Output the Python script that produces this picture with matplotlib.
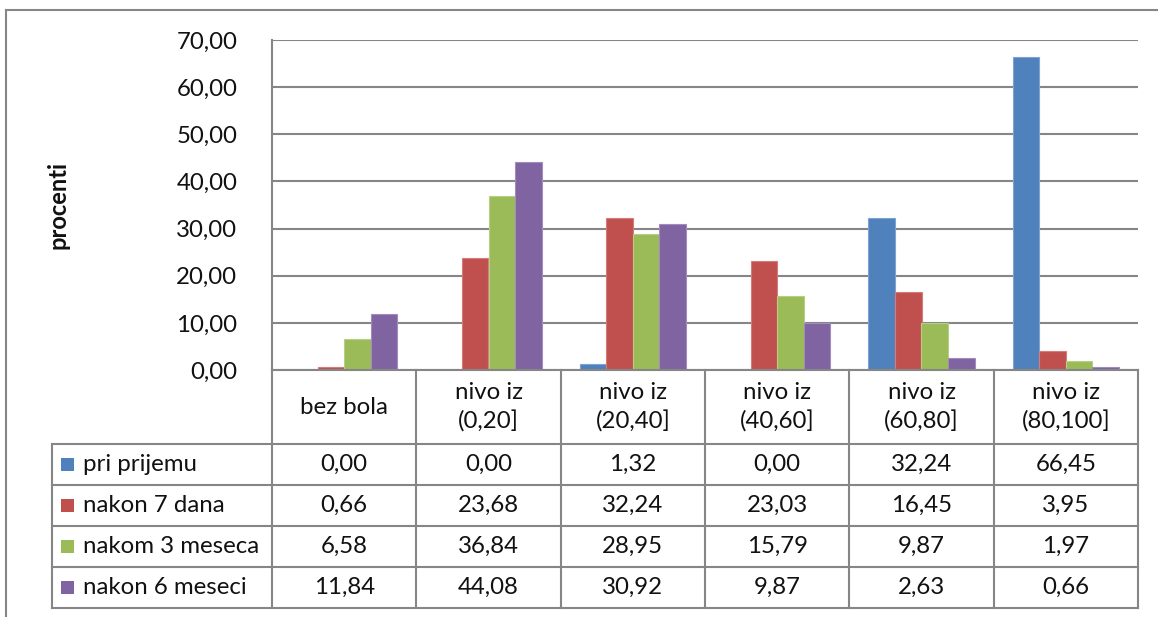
import matplotlib
matplotlib.use("Agg")
import matplotlib.pyplot as plt
from matplotlib.patches import Rectangle

plt.rcParams['font.family'] = ['Lato', 'DejaVu Sans']

# ---- data -------------------------------------------------------------
categories = ["bez bola", "nivo iz\n(0,20]", "nivo iz\n(20,40]",
              "nivo iz\n(40,60]", "nivo iz\n(60,80]", "nivo iz\n(80,100]"]
series_names = ["pri prijemu", "nakon 7 dana", "nakom 3 meseca", "nakon 6 meseci"]
pri_prijemu = [0.00, 0.00, 1.32, 0.00, 32.24, 66.45]
nakon_7_dana = [0.66, 23.68, 32.24, 23.03, 16.45, 3.95]
nakom_3_meseca = [6.58, 36.84, 28.95, 15.79, 9.87, 1.97]
nakon_6_meseci = [11.84, 44.08, 30.92, 9.87, 2.63, 0.66]
series_values = [pri_prijemu, nakon_7_dana, nakom_3_meseca, nakon_6_meseci]
y_ticks = [0, 10, 20, 30, 40, 50, 60, 70]
y_label = "procenti"

colors = ["#4F81BD", "#C0504D", "#9BBB59", "#8064A2"]
edge_colors = ["#7FA3D1", "#D47C7A", "#B7CF85", "#A28BBD"]
grid_color = "#868686"
text_color = "#111111"


def fmt(v):
    return f"{v:.2f}".replace(".", ",")


# ---- layout (pixels) --------------------------------------------------
W, H = 1158, 617
plot_left, plot_right = 272, 1138
plot_top, plot_bottom = 40, 370
table_left = 52
header_bottom = 444
row_h = 41
fs = 17.3

fig = plt.figure(figsize=(W / 100, H / 100), dpi=100)
fig.patch.set_facecolor("white")

# ---- bar chart --------------------------------------------------------
ax = fig.add_axes([plot_left / W, 1 - plot_bottom / H,
                   (plot_right - plot_left) / W, (plot_bottom - plot_top) / H])
n_cat = len(categories)
n_ser = len(series_values)
bar_w = 0.184
for s, vals in enumerate(series_values):
    xs = [i + 0.5 + (s - (n_ser - 1) / 2) * bar_w for i in range(n_cat)]
    ax.bar(xs, vals, width=bar_w, color=colors[s], edgecolor=edge_colors[s],
           linewidth=0.8, zorder=3)

ax.set_xlim(0, n_cat)
ax.set_ylim(y_ticks[0], y_ticks[-1])
ax.set_yticks(y_ticks)
ax.set_yticklabels([fmt(t) for t in y_ticks], fontsize=fs, color=text_color)
ax.set_xticks([])
ax.tick_params(axis="y", length=0, pad=25)
ax.yaxis.grid(True, color=grid_color, linewidth=1.5, zorder=0)
ax.set_axisbelow(True)
for side in ["top", "right", "bottom"]:
    ax.spines[side].set_visible(False)
ax.spines["left"].set_color(grid_color)
ax.spines["left"].set_linewidth(1.5)
ax.set_facecolor("none")

fig.text(58 / W, 1 - 205 / H, y_label, rotation=90, fontsize=17,
         fontweight="bold", ha="center", va="center", color=text_color)

# ---- data table + outer frame (pixel overlay) -------------------------
ov = fig.add_axes([0, 0, 1, 1])
ov.set_xlim(0, W)
ov.set_ylim(H, 0)
ov.axis("off")
ov.patch.set_alpha(0)

lw = 1.5
col_w = (plot_right - plot_left) / n_cat
col_edges = [plot_left + i * col_w for i in range(n_cat + 1)]
row_edges = [header_bottom + r * row_h for r in range(n_ser + 1)]

# outer chart frame
ov.plot([6, W], [10, 10], color=grid_color, lw=lw)
ov.plot([6, 6], [10, H], color=grid_color, lw=lw)

# header block
ov.plot([plot_left, plot_right], [plot_bottom, plot_bottom], color=grid_color, lw=lw)
for x in col_edges:
    ov.plot([x, x], [plot_bottom, row_edges[-1]], color=grid_color, lw=lw)
# body rows
for y in row_edges:
    ov.plot([table_left, plot_right], [y, y], color=grid_color, lw=lw)
ov.plot([table_left, table_left], [row_edges[0], row_edges[-1]], color=grid_color, lw=lw)

for i, cat in enumerate(categories):
    ov.text((col_edges[i] + col_edges[i + 1]) / 2, (plot_bottom + header_bottom) / 2,
            cat, ha="center", va="center", fontsize=fs, color=text_color,
            linespacing=1.42)

for s, (name, vals) in enumerate(zip(series_names, series_values)):
    yc = (row_edges[s] + row_edges[s + 1]) / 2
    ov.add_patch(Rectangle((61, yc - 7), 13, 13, facecolor=colors[s],
                           edgecolor="none"))
    ov.text(83, yc, name, ha="left", va="center", fontsize=fs, color=text_color)
    for i, v in enumerate(vals):
        ov.text((col_edges[i] + col_edges[i + 1]) / 2, yc, fmt(v), ha="center",
                va="center", fontsize=fs, color=text_color)

fig.savefig("out.png", dpi=100, facecolor="white")
